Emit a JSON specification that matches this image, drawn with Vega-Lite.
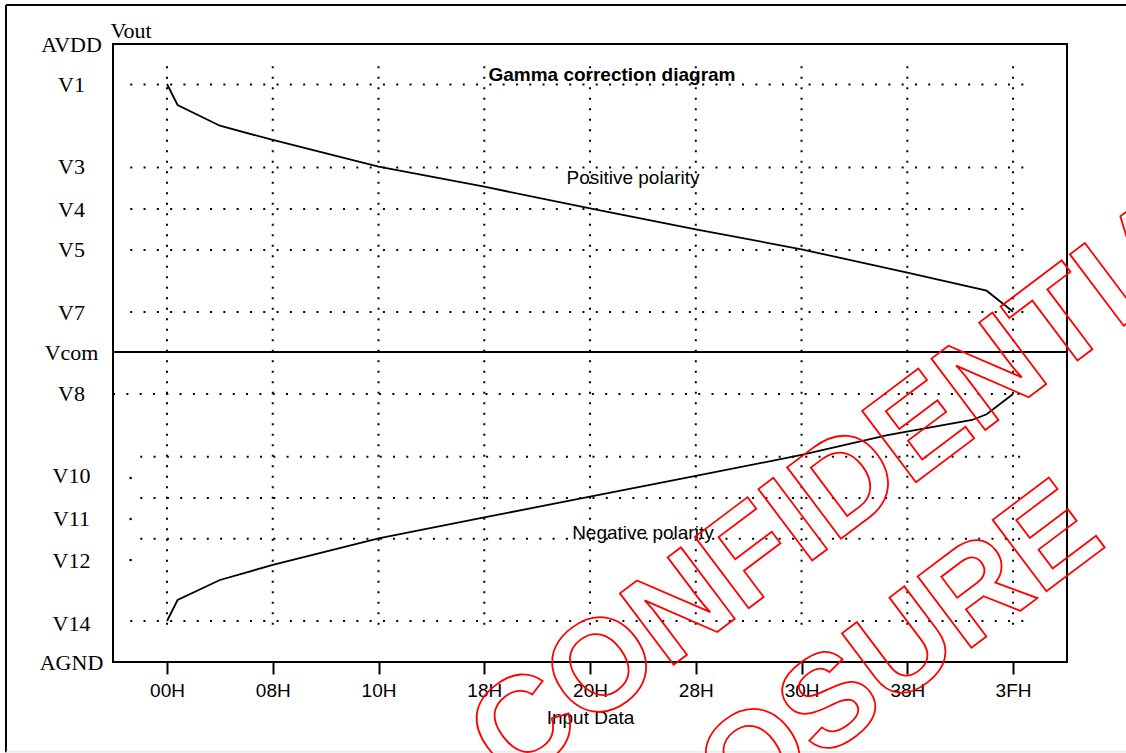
{
  "$schema": "https://vega.github.io/schema/vega-lite/v6.json",
  "width": 954,
  "height": 618,
  "autosize": {"type": "none"},
  "padding": {"left": 113, "top": 44, "right": 59, "bottom": 91},
  "background": "white",
  "config": {"view": {"stroke": "black", "strokeWidth": 2}},
  "data": {"values": [{"id": 1}]},
  "datasets": {
    "curves": [
      {"series": "Positive polarity", "code": 0, "vout": 93.53},
      {"series": "Positive polarity", "code": 0.8, "vout": 90.13},
      {"series": "Positive polarity", "code": 4, "vout": 86.78},
      {"series": "Positive polarity", "code": 8, "vout": 84.47},
      {"series": "Positive polarity", "code": 16, "vout": 80.15},
      {"series": "Positive polarity", "code": 24, "vout": 76.91},
      {"series": "Positive polarity", "code": 32, "vout": 73.41},
      {"series": "Positive polarity", "code": 40, "vout": 70.02},
      {"series": "Positive polarity", "code": 48, "vout": 66.78},
      {"series": "Positive polarity", "code": 56, "vout": 62.99},
      {"series": "Positive polarity", "code": 62, "vout": 60.08},
      {"series": "Positive polarity", "code": 64, "vout": 56.68},
      {"series": "Negative polarity", "code": 0, "vout": 6.63},
      {"series": "Negative polarity", "code": 0.8, "vout": 10.03},
      {"series": "Negative polarity", "code": 4, "vout": 13.27},
      {"series": "Negative polarity", "code": 8, "vout": 15.7},
      {"series": "Negative polarity", "code": 16, "vout": 20.02},
      {"series": "Negative polarity", "code": 24, "vout": 23.4},
      {"series": "Negative polarity", "code": 32, "vout": 26.76},
      {"series": "Negative polarity", "code": 40, "vout": 30.1},
      {"series": "Negative polarity", "code": 48, "vout": 33.5},
      {"series": "Negative polarity", "code": 54.5, "vout": 36.73},
      {"series": "Negative polarity", "code": 60.9, "vout": 39.16},
      {"series": "Negative polarity", "code": 62, "vout": 40.08},
      {"series": "Negative polarity", "code": 64, "vout": 43.37}
    ],
    "gridV": [
      {"code": 0, "vlo": 4.69, "vhi": 96.4},
      {"code": 8, "vlo": 4.69, "vhi": 96.4},
      {"code": 16, "vlo": 4.69, "vhi": 96.4},
      {"code": 24, "vlo": 4.69, "vhi": 96.4},
      {"code": 32, "vlo": 4.69, "vhi": 96.4},
      {"code": 40, "vlo": 4.69, "vhi": 96.4},
      {"code": 48, "vlo": 4.69, "vhi": 96.4},
      {"code": 56, "vlo": 4.69, "vhi": 96.4},
      {"code": 64, "vlo": 4.69, "vhi": 96.4}
    ],
    "gridH": [
      {"vout": 93.45, "clo": -2.78, "chi": 65.2},
      {"vout": 80.0, "clo": -2.78, "chi": 65.2},
      {"vout": 73.3, "clo": -2.78, "chi": 65.2},
      {"vout": 66.67, "clo": -2.78, "chi": 65.2},
      {"vout": 56.63, "clo": -2.78, "chi": 65.2},
      {"vout": 43.37, "clo": -4.08, "chi": 65.2},
      {"vout": 33.22, "clo": -2.02, "chi": 65.2},
      {"vout": 26.54, "clo": -2.02, "chi": 65.2},
      {"vout": 19.95, "clo": -2.02, "chi": 65.2},
      {"vout": 6.63, "clo": -2.78, "chi": 65.2}
    ],
    "dots": [
      {"code": -2.75, "vout": 29.77},
      {"code": -2.75, "vout": 23.14},
      {"code": -2.75, "vout": 16.5}
    ]
  },
  "layer": [
    {
      "data": {"name": "curves"},
      "mark": {"type": "line", "color": "black", "strokeWidth": 1.8},
      "encoding": {
        "x": {
          "field": "code",
          "type": "quantitative",
          "scale": {"domain": [-4.085, 68.08], "nice": false, "zero": false},
          "axis": {
            "values": [0, 8, 16, 24, 32, 40, 48, 56, 64],
            "labelExpr": "['00H','08H','10H','18H','20H','28H','30H','38H','3FH'][round(datum.value / 8)]",
            "grid": false,
            "domain": false,
            "ticks": true,
            "tickSize": 12,
            "tickWidth": 2,
            "tickColor": "black",
            "labelFont": "Liberation Sans",
            "labelFontSize": 19,
            "labelColor": "black",
            "labelPadding": 7,
            "labelFlush": false,
            "labelOverlap": false,
            "title": "Input Data",
            "titleFont": "Liberation Sans",
            "titleFontSize": 19,
            "titleFontWeight": "normal",
            "titleColor": "black",
            "titlePadding": 8
          }
        },
        "y": {
          "field": "vout",
          "type": "quantitative",
          "scale": {"domain": [0, 100], "nice": false, "zero": false},
          "axis": {
            "values": [100, 93.37, 80.1, 73.3, 66.67, 56.5, 50.16, 43.37, 30.1, 23.14, 16.5, 6.15, 0],
            "labelExpr": "datum.value == 100 ? 'AVDD' : datum.value == 93.37 ? 'V1' : datum.value == 80.1 ? 'V3' : datum.value == 73.3 ? 'V4' : datum.value == 66.67 ? 'V5' : datum.value == 56.5 ? 'V7' : datum.value == 50.16 ? 'Vcom' : datum.value == 43.37 ? 'V8' : datum.value == 30.1 ? 'V10' : datum.value == 23.14 ? 'V11' : datum.value == 16.5 ? 'V12' : datum.value == 6.15 ? 'V14' : 'AGND'",
            "grid": false,
            "domain": false,
            "ticks": false,
            "tickSize": 0,
            "labelFont": "Liberation Serif",
            "labelFontSize": 22,
            "labelColor": "black",
            "labelAlign": "center",
            "labelBaseline": "middle",
            "labelPadding": 42,
            "labelFlush": false,
            "labelOverlap": false,
            "title": "Vout",
            "titleFont": "Liberation Serif",
            "titleFontSize": 22,
            "titleFontWeight": "normal",
            "titleColor": "black",
            "titleAngle": 0,
            "titleAlign": "left",
            "titleBaseline": "alphabetic",
            "titleX": -3,
            "titleY": -7
          }
        },
        "detail": {"field": "series"}
      }
    },
    {
      "mark": {"type": "rule", "color": "black", "strokeWidth": 2},
      "encoding": {
        "x": {"datum": -12.18, "type": "quantitative"},
        "y": {"datum": 106.31, "type": "quantitative"},
        "y2": {"datum": -14.6}
      }
    },
    {
      "mark": {"type": "rule", "color": "black", "strokeWidth": 2},
      "encoding": {
        "x": {"datum": -12.18, "type": "quantitative"},
        "x2": {"datum": 75},
        "y": {"datum": 106.31, "type": "quantitative"}
      }
    },
    {
      "mark": {"type": "rule", "color": "#dddddd", "strokeWidth": 1},
      "encoding": {
        "x": {"datum": -12.18, "type": "quantitative"},
        "x2": {"datum": 75},
        "y": {"datum": -14.55, "type": "quantitative"}
      }
    },
    {
      "data": {"name": "gridV"},
      "mark": {"type": "rule", "color": "black", "strokeWidth": 2, "strokeDash": [2, 8.5]},
      "encoding": {
        "x": {"field": "code", "type": "quantitative"},
        "y": {"field": "vhi", "type": "quantitative"},
        "y2": {"field": "vlo"}
      }
    },
    {
      "data": {"name": "gridH"},
      "mark": {"type": "rule", "color": "black", "strokeWidth": 2, "strokeDash": [2, 11.3]},
      "encoding": {
        "x": {"field": "clo", "type": "quantitative"},
        "x2": {"field": "chi"},
        "y": {"field": "vout", "type": "quantitative"}
      }
    },
    {
      "data": {"name": "dots"},
      "mark": {"type": "square", "color": "black", "size": 5, "filled": true, "opacity": 1},
      "encoding": {
        "x": {"field": "code", "type": "quantitative"},
        "y": {"field": "vout", "type": "quantitative"}
      }
    },
    {
      "mark": {"type": "rule", "color": "black", "strokeWidth": 1.8},
      "encoding": {
        "y": {"datum": 50.16, "type": "quantitative"}
      }
    },
    {
      "mark": {"type": "text", "text": "Gamma correction diagram", "font": "Liberation Sans", "fontSize": 19, "fontWeight": "bold", "color": "black", "align": "center", "baseline": "middle"},
      "encoding": {
        "x": {"datum": 33.66, "type": "quantitative"},
        "y": {"datum": 95.0, "type": "quantitative"}
      }
    },
    {
      "mark": {"type": "text", "text": "Positive polarity", "font": "Liberation Sans", "fontSize": 19, "color": "black", "align": "center", "baseline": "middle"},
      "encoding": {
        "x": {"datum": 35.25, "type": "quantitative"},
        "y": {"datum": 78.32, "type": "quantitative"}
      }
    },
    {
      "mark": {"type": "text", "text": "Negative polarity", "font": "Liberation Sans", "fontSize": 19, "color": "black", "align": "center", "baseline": "middle"},
      "encoding": {
        "x": {"datum": 36.0, "type": "quantitative"},
        "y": {"datum": 20.87, "type": "quantitative"}
      }
    },
    {
      "mark": {"type": "text", "text": "CONFIDENTIAL", "font": "Liberation Sans", "fontWeight": "bold", "fontSize": 130, "angle": -37, "align": "right", "baseline": "alphabetic", "fill": "white", "fillOpacity": 0, "stroke": "red", "strokeWidth": 1.8},
      "encoding": {
        "x": {"datum": 84.49, "type": "quantitative"},
        "y": {"datum": 73.95, "type": "quantitative"}
      }
    },
    {
      "mark": {"type": "text", "text": "DISCLOSURE", "font": "Liberation Sans", "fontWeight": "bold", "fontSize": 130, "angle": -37, "align": "right", "baseline": "alphabetic", "fill": "white", "fillOpacity": 0, "stroke": "red", "strokeWidth": 1.8},
      "encoding": {
        "x": {"datum": 71.23, "type": "quantitative"},
        "y": {"datum": 19.06, "type": "quantitative"}
      }
    }
  ]
}
